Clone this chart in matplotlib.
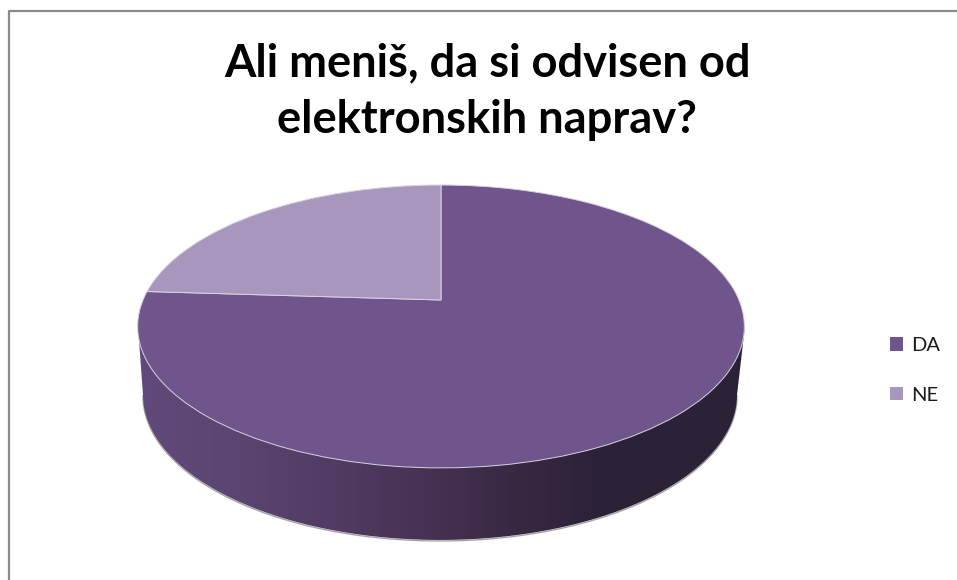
import matplotlib
matplotlib.use('Agg')
import matplotlib.pyplot as plt
from matplotlib.patches import PathPatch
from matplotlib.path import Path
from matplotlib.colors import LinearSegmentedColormap
import numpy as np

title = 'Ali meniš, da si odvisen od\nelektronskih naprav?'
labels = ['DA', 'NE']
values = [76, 24]
slice_colors = ['#70558c', '#a797bd']

plt.rcParams['font.family'] = ['Lato', 'DejaVu Sans']

W, H = 957, 580
fig = plt.figure(figsize=(W / 100, H / 100), dpi=100)
ax = fig.add_axes([0, 0, 1, 1])


# 3D look: unit circle of the pie -> pixels, with perspective
def project(xy):
    u, v = xy[:, 0], xy[:, 1]
    c = 0.187
    d = 1 + c * v
    return np.column_stack([441 + 298 * u / d, 300 - 136.5 * v / d])


wedges, _ = ax.pie(values, colors=slice_colors, startangle=90, counterclock=False,
                   wedgeprops={'edgecolor': '#d8d3e0', 'linewidth': 0.7})
for w in wedges:
    p = w.get_path()
    p.vertices = project(p.vertices)
    w.set_zorder(3)

ax.set_aspect('auto')
ax.set_xlim(0, W)
ax.set_ylim(H, 0)
ax.set_axis_off()

# side wall of the pie, shaded from left to right
t = np.linspace(np.pi, 2 * np.pi, 200)
wall_x = 440 + 297 * np.cos(t)
wall_y = 395 - 145 * np.sin(t)
wall_xy = np.vstack([[[138, 326]], np.column_stack([wall_x, wall_y]), [[745, 326]]])
wall_path = Path(wall_xy)
cmap = LinearSegmentedColormap.from_list('wall', [(0, '#604a7b'), (0.18, '#5a4470'),
                                                  (0.43, '#4a3558'), (0.6, '#3a2a45'),
                                                  (0.75, '#2d2238'), (1, '#2c2237')])
clip = PathPatch(wall_path, transform=ax.transData, facecolor='none', edgecolor='none')
ax.add_patch(clip)
im = ax.imshow(np.linspace(0, 1, 512)[None, :], cmap=cmap, extent=[138, 745, 545, 320],
               aspect='auto', zorder=2)
im.set_clip_path(clip)
ax.plot(wall_x, wall_y + 1, color='#8f8f8f', lw=1.0, alpha=0.8, zorder=1)
ax.set_xlim(0, W)
ax.set_ylim(H, 0)

# chart border, only top and left show in the picture
ax.plot([8.5, 8.5, W], [H, 10.5, 10.5], color='#8a8a8a', lw=1.6, zorder=1)

ax.text(487, 92, title, ha='center', va='center', fontsize=32.6, fontweight='bold',
        color='black', linespacing=1.43)

leg = ax.legend(wedges, labels, loc='upper left', bbox_to_anchor=(890, 337),
                bbox_transform=ax.transData, frameon=False, fontsize=14.5,
                handlelength=0.65, handleheight=0.65, handletextpad=0.42,
                labelspacing=1.62, borderpad=0, borderaxespad=0, labelcolor='#1a1a1a')
for h in leg.legend_handles:
    h.set_edgecolor('none')

fig.savefig('out.png', dpi=100)
